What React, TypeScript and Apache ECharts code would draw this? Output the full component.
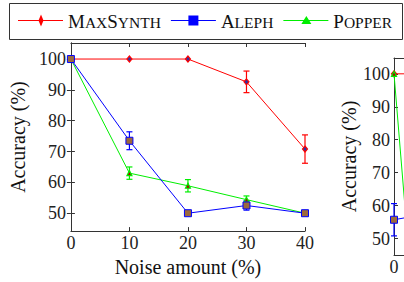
import React, { useEffect, useRef } from "react";
import * as echarts from "echarts";

// Left panel (fully visible)
const noise = [0, 10, 20, 30, 40];
const maxSynthAcc = [100, 100, 100, 92.6, 70.8];
const maxSynthErr = [0, 0, 0, 3.5, 4.6];
const alephAcc = [100, 73.5, 50, 52.5, 50];
const alephErr = [0, 2.9, 0, 1.5, 0];
const popperAcc = [100, 63, 58.9, 54.4, 50];
const popperErr = [0, 2, 2, 1.2, 0];

// Right panel (only its left edge is visible)
const noise2 = [0, 10];
const maxSynthAcc2 = [100, 100];
const alephAcc2 = [55.7, 56.5];
const alephErr2 = [4.9, 0];
const popperAcc2 = [100, 45.5];

const yTicks = [50, 60, 70, 80, 90, 100];
const xTicks2 = [0];
const xTitle = "Noise amount (%)";
const yTitle = "Accuracy (%)";
const legendNames = ["MaxSynth", "Aleph", "Popper"];
const legendSmallCaps: Record<string, string> = {
  MaxSynth: "{b|M}{s|AX}{b|S}{s|YNTH}",
  Aleph: "{b|A}{s|LEPH}",
  Popper: "{b|P}{s|OPPER}",
};

const RED = "#ff0000";
const BLUE = "#0000ff";
const GREEN = "#00ee00";
const FONT = "Liberation Serif";
const AXIS = "#333333";

const anchors = "M0,0h0.01v0.01h-0.01Z M44.99,13.99h0.01v0.01h-0.01Z ";
const lineBar = "M0,6.5H45V7.5H0Z ";
const iconDiamond = "path://" + anchors + lineBar + "M23,1L25.5,7L23,13L20.5,7Z";
const iconSquare = "path://" + anchors + lineBar + "M17.5,2H27.5V12H17.5Z";
const iconTriangle = "path://" + anchors + lineBar + "M23,2.5L28,10.5L18,10.5Z";

function errorBars(name: string, xs: number[], ys: number[], es: number[], color: string, xi: number, yi: number) {
  return {
    type: "custom",
    name,
    xAxisIndex: xi,
    yAxisIndex: yi,
    z: 1,
    data: xs.map((x, i) => [x, ys[i], es[i]]),
    encode: { x: 0, y: 1 },
    renderItem: (_params: any, api: any) => {
      const x = api.value(0);
      const y = api.value(1);
      const e = api.value(2);
      if (!e) return null;
      const t = api.coord([x, y + e]);
      const b = api.coord([x, y - e]);
      const hw = 3;
      const st = { stroke: color, lineWidth: 1.2 };
      return {
        type: "group",
        children: [
          { type: "line", shape: { x1: t[0], y1: t[1], x2: b[0], y2: b[1] }, style: st },
          { type: "line", shape: { x1: t[0] - hw, y1: t[1], x2: t[0] + hw, y2: t[1] }, style: st },
          { type: "line", shape: { x1: b[0] - hw, y1: b[1], x2: b[0] + hw, y2: b[1] }, style: st },
        ],
      };
    },
  };
}

const axisLine = { show: true, lineStyle: { color: AXIS, width: 1 } };
const tickIn = { show: true, inside: true, length: 4, lineStyle: { color: AXIS, width: 1 } };
const labelRich = { t: { fontFamily: FONT, fontSize: 18, color: "#222" } };
const labelStyle = {
  fontFamily: FONT,
  fontSize: 18,
  color: "#222",
  formatter: "{t|{value}}",
  rich: labelRich,
};
const nameStyle = {
  fontFamily: FONT,
  fontSize: 20,
  color: "#111",
  rich: { n: { fontFamily: FONT, fontSize: 20, color: "#111" } },
};

const mkMax = (xs: number[], ys: number[], xi: number, yi: number) => ({
  type: "line", name: "MaxSynth", xAxisIndex: xi, yAxisIndex: yi,
  data: xs.map((x, i) => [x, ys[i]]),
  symbol: "diamond", symbolSize: [5, 6],
  lineStyle: { color: RED, width: 1 },
  itemStyle: { color: "#3030a0", borderColor: RED, borderWidth: 1.2 },
  z: 2,
});
const mkPop = (xs: number[], ys: number[], xi: number, yi: number) => ({
  type: "line", name: "Popper", xAxisIndex: xi, yAxisIndex: yi,
  data: xs.map((x, i) => [x, ys[i]]),
  symbol: "triangle", symbolSize: 5,
  lineStyle: { color: GREEN, width: 1 },
  itemStyle: { color: "#b00000", borderColor: GREEN, borderWidth: 1.2 },
  z: 3,
});
const mkAleph = (xs: number[], ys: number[], xi: number, yi: number) => ({
  type: "line", name: "Aleph", xAxisIndex: xi, yAxisIndex: yi,
  data: xs.map((x, i) => [x, ys[i]]),
  symbol: "rect", symbolSize: 7,
  lineStyle: { color: BLUE, width: 1 },
  itemStyle: { color: "#9c6a3c", borderColor: BLUE, borderWidth: 1 },
  z: 4,
});

export default function App() {
  const ref = useRef<HTMLDivElement>(null);
  useEffect(() => {
    if (!ref.current) return;
    const chart = echarts.init(ref.current, null, { renderer: "svg" });
    const icons: Record<string, string> = { MaxSynth: iconDiamond, Aleph: iconSquare, Popper: iconTriangle };
    const colors: Record<string, string> = { MaxSynth: RED, Aleph: BLUE, Popper: GREEN };
    chart.setOption({
      animation: false,
      backgroundColor: "#ffffff",
      textStyle: { fontFamily: FONT },
      graphic: [
        {
          type: "rect",
          shape: { x: 9.5, y: 3.5, width: 393, height: 36 },
          style: { fill: "none", stroke: AXIS, lineWidth: 1 },
          silent: true,
        },
      ],
      legend: {
        left: 18,
        top: 11.5,
        padding: 0,
        itemWidth: 45,
        itemHeight: 14,
        itemGap: 10,
        selectedMode: false,
        symbolKeepAspect: true,
        data: legendNames.map((n) => ({
          name: n,
          icon: icons[n],
          itemStyle: { color: colors[n], borderWidth: 0 },
        })),
        formatter: (n: string) => legendSmallCaps[n],
        textStyle: {
          fontFamily: FONT,
          color: "#111",
          rich: {
            b: { fontFamily: FONT, fontSize: 19, lineHeight: 20, color: "#111", verticalAlign: "bottom" },
            s: { fontFamily: FONT, fontSize: 15.5, lineHeight: 20, color: "#111", verticalAlign: "bottom" },
          },
        },
      },
      grid: [
        { left: 68, top: 43, width: 237, height: 197, containLabel: false },
        { left: 394, top: 58, width: 237, height: 197, containLabel: false },
      ],
      xAxis: [
        {
          gridIndex: 0, type: "value", position: "bottom", min: 0, max: 40, interval: 10,
          axisLine, axisTick: tickIn, splitLine: { show: false },
          axisLabel: { ...labelStyle, margin: 3 },
          name: "{n|" + xTitle + "}", nameLocation: "middle", nameGap: 20, nameTextStyle: nameStyle,
        },
        {
          gridIndex: 0, type: "value", position: "top", min: 0, max: 40, interval: 10,
          axisLine, axisTick: tickIn, splitLine: { show: false }, axisLabel: { show: false },
        },
        {
          gridIndex: 1, type: "value", position: "bottom", min: 0, max: 40, interval: 10,
          axisLine, axisTick: tickIn, splitLine: { show: false },
          axisLabel: { ...labelStyle, margin: 3, customValues: xTicks2 },
        },
        {
          gridIndex: 1, type: "value", position: "top", min: 0, max: 40, interval: 10,
          axisLine, axisTick: tickIn, splitLine: { show: false }, axisLabel: { show: false },
        },
      ],
      yAxis: [
        {
          gridIndex: 0, type: "value", position: "left", min: 44.2, max: 105.2,
          axisLine, axisTick: { ...tickIn, customValues: yTicks }, splitLine: { show: false },
          axisLabel: { ...labelStyle, margin: 5, customValues: yTicks },
          name: "{n|" + yTitle + "}", nameLocation: "middle", nameGap: 33, nameTextStyle: nameStyle,
        },
        {
          gridIndex: 0, type: "value", position: "right", min: 44.2, max: 105.2,
          axisLine, axisTick: { ...tickIn, customValues: yTicks }, splitLine: { show: false },
          axisLabel: { show: false },
        },
        {
          gridIndex: 1, type: "value", position: "left", min: 45, max: 104.8,
          axisLine, axisTick: { ...tickIn, customValues: yTicks }, splitLine: { show: false },
          axisLabel: { ...labelStyle, margin: 4, customValues: yTicks },
          name: "{n|" + yTitle + "}", nameLocation: "middle", nameGap: 33, nameTextStyle: nameStyle,
        },
      ],
      series: [
        errorBars("MaxSynth err", noise, maxSynthAcc, maxSynthErr, RED, 0, 0),
        errorBars("Popper err", noise, popperAcc, popperErr, GREEN, 0, 0),
        errorBars("Aleph err", noise, alephAcc, alephErr, BLUE, 0, 0),
        mkMax(noise, maxSynthAcc, 0, 0),
        mkPop(noise, popperAcc, 0, 0),
        mkAleph(noise, alephAcc, 0, 0),
        errorBars("Aleph err 2", noise2, alephAcc2, alephErr2, BLUE, 2, 2),
        mkMax(noise2, maxSynthAcc2, 2, 2),
        mkPop(noise2, popperAcc2, 2, 2),
        mkAleph(noise2, alephAcc2, 2, 2),
      ],
    });
    return () => chart.dispose();
  }, []);
  return (
    <div
      ref={ref}
      style={{ position: "fixed", left: 0, top: 0, width: 404, height: 282, background: "#fff" }}
    />
  );
}
